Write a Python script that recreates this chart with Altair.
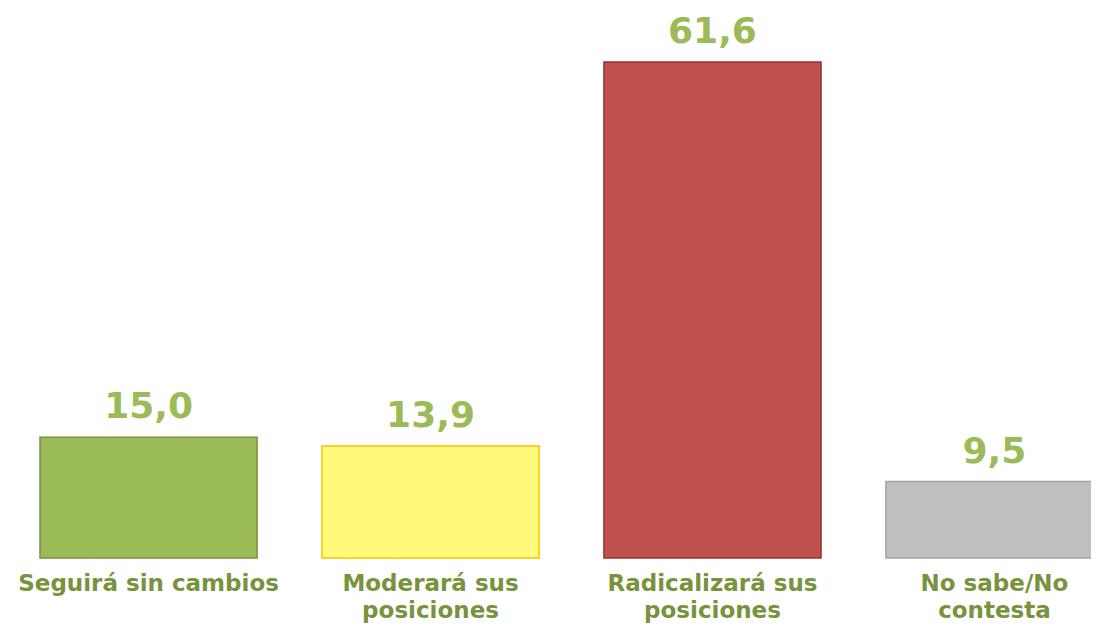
import altair as alt
import pandas as pd

categories = ["Seguirá sin cambios", "Moderará sus|posiciones", "Radicalizará sus|posiciones", "No sabe/No|contesta"]
values = [15.0, 13.9, 61.6, 9.5]
fills = ["#9BBB59", "#FFFA7A", "#C0504D", "#BFBFBF"]
strokes = ["#77933C", "#FFC000", "#943634", "#A5A5A5"]

df = pd.DataFrame({
    "cat": categories,
    "val": values,
    "fill": fills,
    "stroke": strokes,
    "lbl": [f"{v:.1f}".replace(".", ",") for v in values],
})

FONT = "DejaVu Sans"

x = alt.X("cat:N", sort=categories, axis=None,
          scale=alt.Scale(paddingInner=0.23, paddingOuter=0.1135, range=[0, 1127]))
y = alt.Y("val:Q", axis=None, scale=alt.Scale(domain=[0, 67.06], nice=False, zero=True))

base = alt.Chart(df)

bars = base.mark_bar(strokeWidth=1.5).encode(
    x=x, y=y,
    fill=alt.Fill("fill:N", scale=None),
    stroke=alt.Stroke("stroke:N", scale=None),
)

vals = base.mark_text(font=FONT, fontWeight="bold", fontSize=36, color="#9BBB59",
                      baseline="alphabetic", dy=-19).encode(
    x=x, y=y, text="lbl:N")

cats = base.mark_text(font=FONT, fontWeight="bold", fontSize=23, color="#77933C",
                      baseline="top", lineBreak="|", lineHeight=27).encode(
    x=x, y=alt.value(555), text="cat:N")

chart = alt.layer(bars, vals, cats).properties(
    width=1083, height=540,
    padding={"left": 0, "top": 10, "right": 0, "bottom": 68},
    autosize=alt.AutoSizeParams(type="none"),
).configure_view(stroke=None)

chart.save("out.html", embed_options={"renderer": "svg", "actions": False})
